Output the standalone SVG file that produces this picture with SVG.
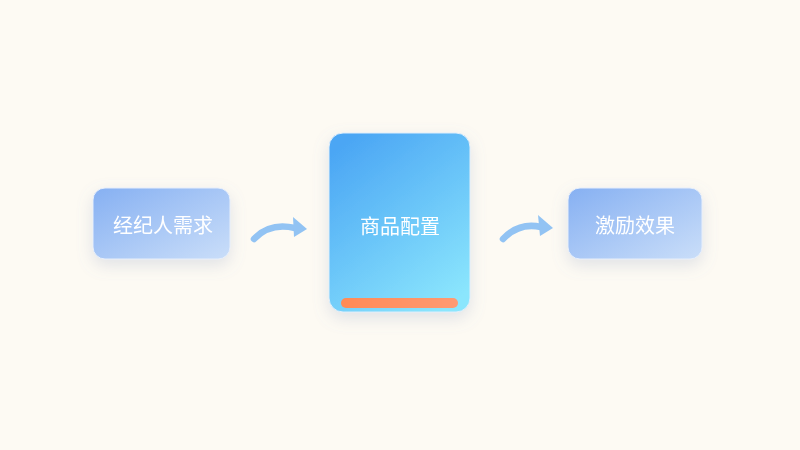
<svg xmlns="http://www.w3.org/2000/svg" width="800" height="450" viewBox="0 0 800 450">
  <defs>
    <linearGradient id="gSide" x1="0" y1="0" x2="1" y2="1">
      <stop offset="0" stop-color="#86b0f2"/>
      <stop offset="1" stop-color="#cadef9"/>
    </linearGradient>
    <linearGradient id="gMain" x1="0.2" y1="0" x2="0.8" y2="1">
      <stop offset="0" stop-color="#4ba6f4"/>
      <stop offset="1" stop-color="#8be6fd"/>
    </linearGradient>
    <linearGradient id="gBar" x1="0" y1="0" x2="1" y2="0">
      <stop offset="0" stop-color="#ff8a56"/>
      <stop offset="1" stop-color="#ff9a72"/>
    </linearGradient>
    <filter id="shadow" x="-30%" y="-30%" width="160%" height="160%">
      <feDropShadow dx="0" dy="6" stdDeviation="8" flood-color="#7a8fb8" flood-opacity="0.22"/>
    </filter>
    <style>
      .label { font-family: "Noto Sans CJK SC", "Noto Sans", sans-serif; font-size: 20px; font-weight: 400; fill: #ffffff; text-anchor: middle; dominant-baseline: central; }
      .flow { fill: none; stroke: #92c3f3; stroke-width: 6.5; stroke-linecap: round; }
      .head { fill: #92c3f3; }
    </style>
  </defs>
  <rect width="800" height="450" fill="#fdfaf3"/>

  <g id="node-need" filter="url(#shadow)">
    <rect x="93" y="188" width="137" height="71" rx="12" fill="url(#gSide)" stroke="#e6eefb" stroke-width="1"/>
    <text class="label" x="163" y="224">经纪人需求</text>
  </g>

  <g id="node-config" filter="url(#shadow)">
    <rect x="329" y="133" width="141" height="179" rx="14" fill="url(#gMain)" stroke="#dfeefb" stroke-width="1"/>
    <rect x="341" y="298" width="117" height="10" rx="5" fill="url(#gBar)"/>
    <text class="label" x="400" y="225">商品配置</text>
  </g>

  <g id="node-effect" filter="url(#shadow)">
    <rect x="568" y="188" width="134" height="71" rx="12" fill="url(#gSide)" stroke="#e6eefb" stroke-width="1"/>
    <text class="label" x="635" y="224">激励效果</text>
  </g>

  <g id="connectors">
    <path class="flow" d="M254 239 Q270 222 295 228"/>
    <polygon class="head" points="293,217 307,229 294,237"/>
    <path class="flow" d="M503 239 Q519 222 541 227"/>
    <polygon class="head" points="538,215 553,228 540,236"/>
  </g>
</svg>
